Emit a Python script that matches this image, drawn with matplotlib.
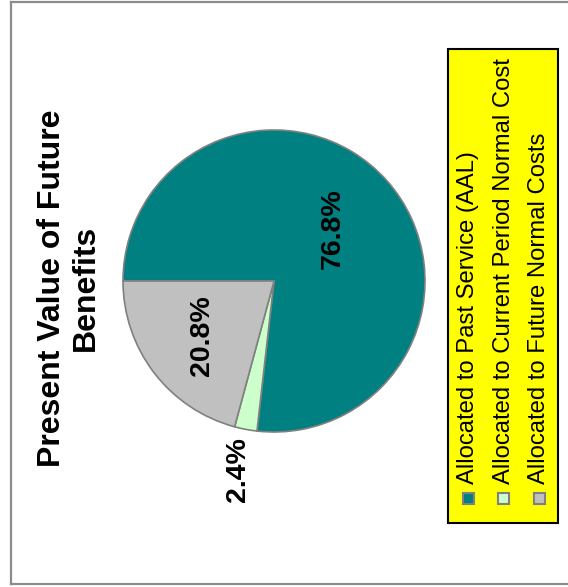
import matplotlib
matplotlib.use('Agg')
import matplotlib.pyplot as plt
from matplotlib.patches import Rectangle
from matplotlib.lines import Line2D
import numpy as np

plt.rcParams['font.family'] = ['Liberation Sans', 'DejaVu Sans']

# PVFB split
labels = ['Allocated to Past Service (AAL)',
          'Allocated to Current Period Normal Cost',
          'Allocated to Future Normal Costs']
shares = [76.8, 2.4, 20.8]
colors = ['#008080', '#CCFFCC', '#C0C0C0']
label_dist = [0.52, 1.27, 0.60]  # radial position of each % label
title = 'Present Value of Future\nBenefits'

W, H = 568, 587
fig = plt.figure(figsize=(W / 100, H / 100), dpi=100)

def fx(px): return px / W
def fy(py): return 1 - py / H

# outer frame (left, top, bottom only)
for xs, ys in [([11, 11], [2, 584]), ([11, W], [2, 2]), ([11, W], [584, 584])]:
    fig.add_artist(Line2D([fx(x) for x in xs], [fy(y) for y in ys],
                          color='#8c8c8c', lw=1.6, transform=fig.transFigure))

# pie, drawn sideways
cx, cy, r = 274, 281, 151
ax = fig.add_axes([fx(cx - r), fy(cy + r), 2 * r / W, 2 * r / H])
wedges, _ = ax.pie(shares, colors=colors, startangle=180, counterclock=False,
                   wedgeprops=dict(edgecolor='#808080', linewidth=1.2))
ax.set_xlim(-1, 1)
ax.set_ylim(-1, 1)
ax.set_aspect('auto')
ax.axis('off')

for w, v, d in zip(wedges, shares, label_dist):
    mid = np.deg2rad((w.theta1 + w.theta2) / 2)
    ax.text(d * np.cos(mid), d * np.sin(mid), f'{v:.1f}%', rotation=90,
            ha='center', va='center', fontsize=20.5, fontweight='bold',
            clip_on=False)

fig.text(fx(69), fy(288), title, rotation=90, ha='center', va='center',
         fontsize=23, fontweight='bold', multialignment='center',
         linespacing=1.2)

# legend box
fig.add_artist(Rectangle((fx(448), fy(523)), 110 / W, 474 / H,
                         facecolor='#FFFF00', edgecolor='black', lw=1.5,
                         transform=fig.transFigure))
for i, (lab, c) in enumerate(zip(labels, colors)):
    x = 468 + i * 35.5
    fig.add_artist(Rectangle((fx(x - 5.5), fy(504)), 11 / W, 11 / H,
                             facecolor=c, edgecolor='#808080', lw=1.5,
                             transform=fig.transFigure))
    fig.text(fx(x), fy(484), lab, rotation=90, ha='center', va='bottom',
             fontsize=17.2)

fig.savefig('out.png', dpi=100)
